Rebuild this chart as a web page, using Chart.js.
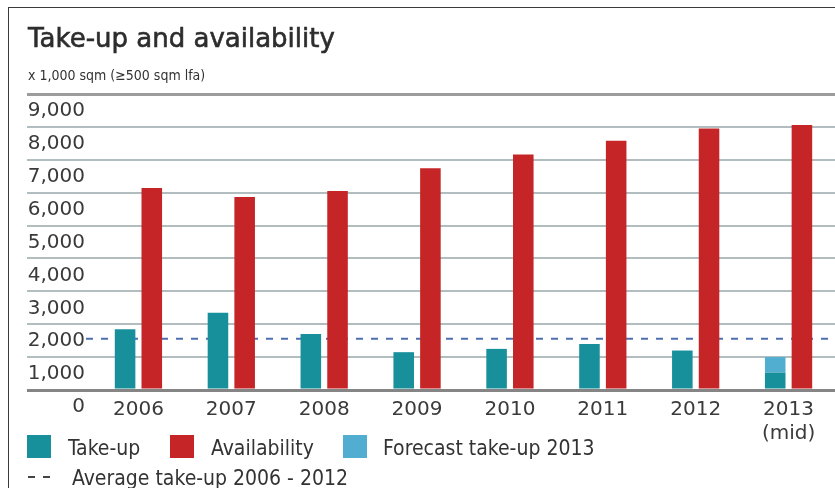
<!DOCTYPE html>
<html>
<head>
<meta charset="utf-8">
<script src="https://cdn.jsdelivr.net/npm/chart.js@4.4.0/dist/chart.umd.min.js"></script>
<style>
  html, body { margin: 0; padding: 0; background: #fff; }
  #wrap { position: relative; width: 835px; height: 488px; overflow: hidden;
    font-family: "DejaVu Sans Condensed", "Liberation Sans Narrow", "DejaVu Sans", sans-serif; color: #333; }
  #frame { position: absolute; left: 8px; top: 7px; right: -2px; bottom: -2px;
    border-top: 1px solid #3a3a3a; border-left: 1px solid #3a3a3a; }
  canvas { position: absolute; left: 0; top: 0; }
  .title { position: absolute; left: 28px; top: 25px; font-family: "DejaVu Sans", sans-serif; font-size: 26px; line-height: 26px;
    font-weight: normal; -webkit-text-stroke: 0.6px #2d2d2d; color: #2d2d2d; white-space: nowrap; }
  .sub { position: absolute; left: 28px; top: 68px; font-size: 14px; line-height: 14px; color: #333; white-space: nowrap; }
  .key { position: absolute; top: 435px; width: 24px; height: 23px; }
  .lab { position: absolute; font-size: 21px; line-height: 21px; color: #333; white-space: nowrap; }
  .dash { position: absolute; top: 476px; width: 7px; height: 2px; background: #444; }
</style>
</head>
<body>
<div id="wrap">
  <canvas id="mycanvas" width="835" height="488"></canvas>
  <div id="frame"></div>
  <div class="title">Take-up and availability</div>
  <div class="sub">x 1,000 sqm (≥500 sqm lfa)</div>

  <div class="key" style="left:27px; background:#17909b;"></div>
  <div class="lab" style="left:68px; top:438px;">Take-up</div>
  <div class="key" style="left:170px; background:#c52527;"></div>
  <div class="lab" style="left:211px; top:438px;">Availability</div>
  <div class="key" style="left:343px; background:#52aed1;"></div>
  <div class="lab" style="left:383px; top:438px;">Forecast take-up 2013</div>

  <div class="dash" style="left:28px;"></div>
  <div class="dash" style="left:43px;"></div>
  <div class="lab" style="left:72px; top:468px;">Average take-up 2006 - 2012</div>
</div>

<script>
var years = ['2006', '2007', '2008', '2009', '2010', '2011', '2012', ['2013', '(mid)']];
var takeUp = [1850, 2350, 1700, 1150, 1250, 1400, 1200, 530];
var forecastTakeUp = [null, null, null, null, null, null, null, 470];
var availability = [6140, 5870, 6050, 6740, 7160, 7580, 7950, 8060];
var yTicks = [0, 1000, 2000, 3000, 4000, 5000, 6000, 7000, 8000, 9000];

// average take-up 2006 - 2012 (first seven years)
var avgTakeUp = takeUp.slice(0, 7).reduce(function(a, b) { return a + b; }, 0) / 7;

var avgLine = {
	id: 'avgLine',
	beforeDatasetsDraw: function(chart) {
		var y = chart.scales.y.getPixelForValue(avgTakeUp);
		var c = chart.ctx;
		c.save();
		c.strokeStyle = '#4f6fb0';
		c.lineWidth = 2;
		c.setLineDash([7, 8]);
		c.beginPath();
		c.moveTo(86, y);
		c.lineTo(chart.width, y);
		c.stroke();
		c.restore();
	}
};

var ctx = document.getElementById('mycanvas');

var barGraph = new Chart(ctx, {
	type: 'bar',
	data: {
		labels: years,
		datasets: [
			{ label: 'Take-up', data: takeUp, backgroundColor: '#17909b', stack: 'take' },
			{ label: 'Forecast take-up 2013', data: forecastTakeUp, backgroundColor: '#52aed1', stack: 'take' },
			{ label: 'Availability', data: availability, backgroundColor: '#c52527', stack: 'avail' }
		]
	},
	options: {
		responsive: false,
		animation: false,
		categoryPercentage: 0.575,
		barPercentage: 0.77,
		layout: { padding: { top: 94, left: 0, right: 0, bottom: 0 } },
		plugins: { legend: { display: false }, tooltip: { enabled: false } },
		scales: {
			x: {
				stacked: true,
				grid: { display: false, drawTicks: false },
				border: { display: false },
				ticks: {
					font: { family: 'DejaVu Sans', size: 20 },
					color: '#3a3a3a',
					padding: 8,
					maxRotation: 0,
					autoSkip: false
				},
				afterFit: function(s) { s.height = 98; }
			},
			y: {
				stacked: true,
				min: 0,
				max: 9000,
				afterBuildTicks: function(s) { s.ticks = yTicks.map(function(v) { return { value: v }; }); },
				ticks: {
					labelOffset: 17,
					padding: -58,
					font: { family: 'DejaVu Sans', size: 20 },
					color: '#3a3a3a',
					callback: function(v) { return v.toLocaleString('en-US'); }
				},
				grid: {
					tickLength: 65,
					color: function(c) {
						if (c.tick && c.tick.value === 0) return '#858585';
						if (c.tick && c.tick.value === 9000) return '#9c9c9c';
						return '#b2bdbf';
					},
					lineWidth: function(c) {
						if (c.tick && (c.tick.value === 0 || c.tick.value === 9000)) return 3;
						return 2;
					}
				},
				border: { display: false },
				afterFit: function(s) { s.width = 92; }
			}
		}
	},
	plugins: [avgLine]
});
</script>
</body>
</html>
